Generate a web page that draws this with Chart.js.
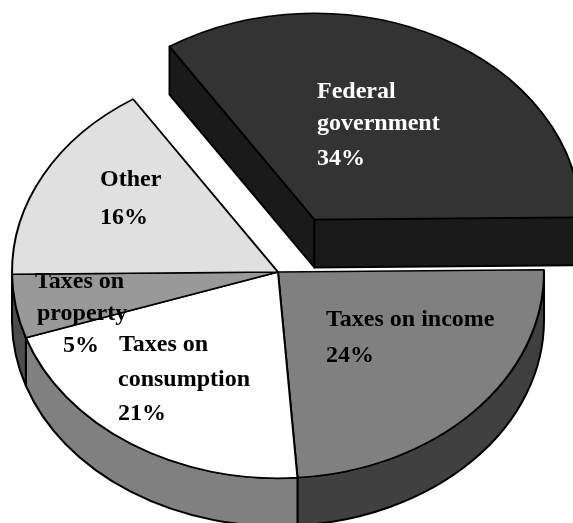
<!DOCTYPE html>
<html>
<head>
<meta charset="utf-8">
<title>Government revenue</title>
<script src="https://cdn.jsdelivr.net/npm/chart.js@4/dist/chart.umd.min.js"></script>
<style>
html, body { margin: 0; padding: 0; background: #fff; }
canvas { display: block; }
</style>
</head>
<body>
<canvas id="revenuePie" width="573" height="523"></canvas>
<script>
// slices run clockwise from the federal piece
var categories = ["Federal government", "Taxes on income", "Taxes on consumption", "Taxes on property", "Other"];
var shares = [34, 24, 21, 5, 16];
var topColors = ["#333333", "#808080", "#ffffff", "#999999", "#e0e0e0"];
var sideColors = ["#1a1a1a", "#404040", "#808080", "#4d4d4d", "#707070"];
var pulledOut = [77, 0, 0, 0, 0];

var tilt = 0.775;    // vertical squash of the pie
var depth = 48;      // height of the side walls

// text lines for each slice: [text, x, baseline]
var labelLines = [
  [["Federal", 317, 98], ["government", 317, 130], [shares[0] + "%", 317, 165]],
  [["Taxes on income", 326, 326], [shares[1] + "%", 326, 362]],
  [["Taxes on", 119, 351], ["consumption", 118, 386], [shares[2] + "%", 118, 420]],
  [["Taxes on", 35, 288], ["property", 37, 320], [shares[3] + "%", 63, 352]],
  [["Other", 100, 186], [shares[4] + "%", 100, 224]]
];

function shift(arc, i) {
  var mid = (arc.startAngle + arc.endAngle) / 2;
  return { x: arc.x + Math.cos(mid) * pulledOut[i], y: arc.y + Math.sin(mid) * pulledOut[i] * tilt };
}

function cutFace(ctx, arc, i, angle) {
  var c = shift(arc, i);
  var rx = c.x + Math.cos(angle) * arc.outerRadius;
  var ry = c.y + Math.sin(angle) * arc.outerRadius * tilt;
  ctx.beginPath();
  ctx.moveTo(c.x, c.y);
  ctx.lineTo(rx, ry);
  ctx.lineTo(rx, ry + depth);
  ctx.lineTo(c.x, c.y + depth);
  ctx.closePath();
  ctx.fill();
  ctx.stroke();
}

function outerWall(ctx, arc, i) {
  var lo = Math.max(arc.startAngle, 0), hi = Math.min(arc.endAngle, Math.PI);
  if (hi <= lo) return;
  var c = shift(arc, i), R = arc.outerRadius;
  ctx.beginPath();
  ctx.ellipse(c.x, c.y, R, R * tilt, 0, lo, hi);
  ctx.ellipse(c.x, c.y + depth, R, R * tilt, 0, hi, lo, true);
  ctx.closePath();
  ctx.fill();
  ctx.stroke();
}

var tiltedPie = {
  id: "tiltedPie",
  beforeDatasetsDraw: function (chart) {
    var ctx = chart.ctx;
    var arcs = chart.getDatasetMeta(0).data;

    ctx.save();
    ctx.strokeStyle = "#000";
    ctx.lineWidth = 2;
    ctx.lineJoin = "round";
    arcs.forEach(function (arc, i) {
      ctx.fillStyle = sideColors[i];
      if (pulledOut[i]) {
        cutFace(ctx, arc, i, arc.startAngle);
        cutFace(ctx, arc, i, arc.endAngle);
      }
      outerWall(ctx, arc, i);
    });
    ctx.restore();

    // top faces go through the normal arc drawing, squashed about the centre
    arcs.forEach(function (arc, i) {
      var c = shift(arc, i);
      ctx.save();
      ctx.translate(c.x - arc.x, c.y);
      ctx.scale(1, tilt);
      ctx.translate(0, -arc.y);
      arc.draw(ctx);
      ctx.restore();
    });
    return false;
  },
  afterDraw: function (chart) {
    var ctx = chart.ctx;
    ctx.save();
    ctx.font = "bold 24px 'Liberation Serif'";
    ctx.textBaseline = "alphabetic";
    labelLines.forEach(function (lines, i) {
      ctx.fillStyle = i === 0 ? "#fff" : "#000";
      lines.forEach(function (l) { ctx.fillText(l[0], l[1], l[2]); });
    });
    ctx.restore();
  }
};

new Chart(document.getElementById("revenuePie").getContext("2d"), {
  type: "pie",
  data: {
    labels: categories,
    datasets: [{
      data: shares,
      backgroundColor: topColors,
      borderColor: "#000",
      borderWidth: 2,
      borderAlign: "center"
    }]
  },
  options: {
    responsive: false,
    animation: false,
    rotation: -33,
    radius: 266,
    layout: { padding: { right: 17, top: 21 } },
    plugins: { legend: { display: false }, tooltip: { enabled: false } }
  },
  plugins: [tiltedPie]
});
</script>
</body>
</html>
